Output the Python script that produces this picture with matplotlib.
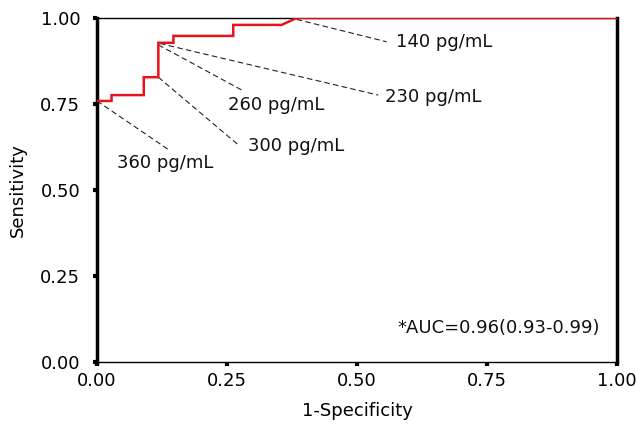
import matplotlib

matplotlib.use("Agg")
import matplotlib.pyplot as plt

# ROC curve
fpr = [0.0, 0.028, 0.028, 0.090, 0.090, 0.118, 0.118, 0.147, 0.147, 0.262, 0.262, 0.355, 0.384, 1.0]
tpr = [0.759, 0.759, 0.776, 0.776, 0.828, 0.828, 0.928, 0.928, 0.948, 0.948, 0.980, 0.980, 1.0, 1.0]

# cut-off labels: point on curve, end of leader line, text position
cutoff_labels = ["360 pg/mL", "300 pg/mL", "260 pg/mL", "230 pg/mL", "140 pg/mL"]
cutoff_points = [(0.0, 0.759), (0.118, 0.828), (0.118, 0.922), (0.121, 0.926), (0.384, 0.996)]
leader_ends = [(0.137, 0.618), (0.272, 0.631), (0.278, 0.791), (0.541, 0.776), (0.557, 0.931)]
text_pos = [(0.038, 0.578), (0.290, 0.628), (0.252, 0.747), (0.554, 0.771), (0.576, 0.930)]

ticks = [0.0, 0.25, 0.5, 0.75, 1.0]
tick_labels = ["0.00", "0.25", "0.50", "0.75", "1.00"]
auc_text = "*AUC=0.96(0.93-0.99)"

plt.rcParams["font.family"] = ["DejaVu Sans"]

fig = plt.figure(figsize=(6.36, 4.24), dpi=100)
ax = fig.add_axes([0.1525, 0.146, 0.8175, 0.8115])

ax.plot(fpr, tpr, color="#e8121b", linewidth=1.8, solid_joinstyle="miter", zorder=3)

for label, pt, end, pos in zip(cutoff_labels, cutoff_points, leader_ends, text_pos):
    ax.plot([pt[0], end[0]], [pt[1], end[1]], color="#222222", linestyle=(0, (5, 3)),
            linewidth=0.8, zorder=2)
    ax.text(pos[0], pos[1], label, fontsize=13, ha="left", va="center", color="#111111")

ax.text(0.967, 0.099, auc_text, fontsize=13, ha="right", va="center", color="#111111")

ax.set_xlim(0, 1)
ax.set_ylim(0, 1)
ax.set_xticks(ticks)
ax.set_xticklabels(tick_labels)
ax.set_yticks(ticks)
ax.set_yticklabels(tick_labels)
ax.tick_params(direction="out", length=3, width=3, labelsize=13, colors="black", pad=4)
ax.tick_params(axis="y", pad=9)

ax.spines["left"].set_linewidth(2.5)
ax.spines["right"].set_linewidth(2.5)
ax.spines["top"].set_linewidth(1.0)
ax.spines["bottom"].set_linewidth(1.0)

ax.set_xlabel("1-Specificity", fontsize=13, labelpad=9)
ax.set_ylabel("Sensitivity", fontsize=13, labelpad=10)

fig.savefig("out.png", dpi=100)
